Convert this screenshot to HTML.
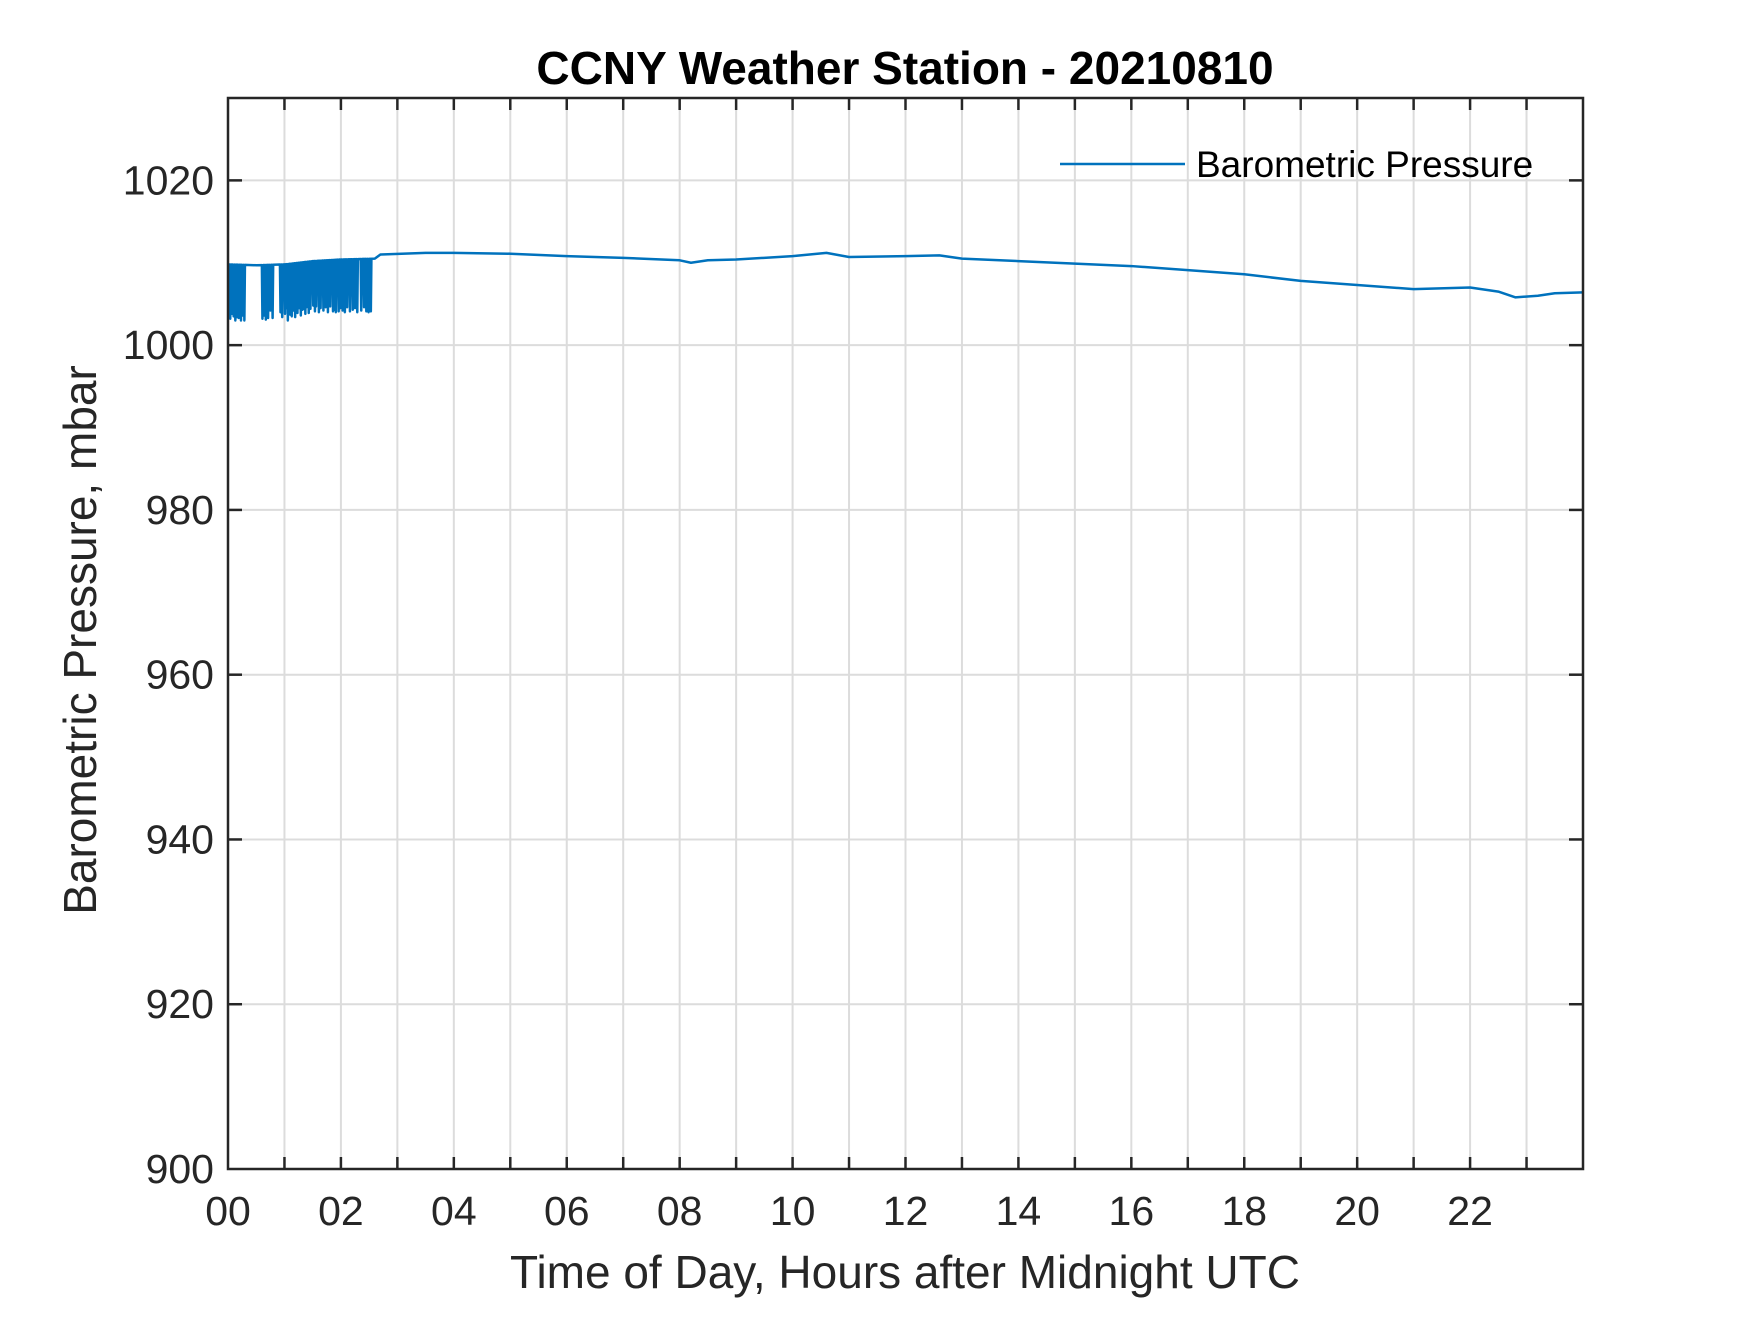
<!DOCTYPE html>
<html><head><meta charset="utf-8"><style>
body{margin:0;background:#fff;}
svg text{font-family:"Liberation Sans",Arial,sans-serif;fill:#262626;}
</style></head><body>
<svg id="chart" width="1750" height="1313" viewBox="0 0 1750 1313">
<rect width="1750" height="1313" fill="#fff"/>
<g id="grid"></g>
<g id="series"></g>
<g id="axes"></g>
<text x="905" y="84" text-anchor="middle" font-size="46" font-weight="bold" style="fill:#000">CCNY Weather Station - 20210810</text>
<text x="905" y="1288" text-anchor="middle" font-size="46">Time of Day, Hours after Midnight UTC</text>
<text transform="translate(96,640) rotate(-90)" text-anchor="middle" font-size="46">Barometric Pressure, mbar</text>
<g>
<line x1="1060" y1="164" x2="1185" y2="164" stroke="#0072BD" stroke-width="2.5"/>
<text x="1196" y="177" font-size="37" style="fill:#000">Barometric Pressure</text>
</g>
</svg>
<script>
const baseHours=[0,0.5,1,1.5,2,2.6,2.7,3.5,4,5,6,7,8,8.2,8.5,9,10,10.6,11,12,12.6,13,14,15,16,17,18,19,20,21,22,22.5,22.8,23.2,23.5,24];
const baseValues=[1009.8,1009.7,1009.8,1010.2,1010.4,1010.5,1011.0,1011.2,1011.2,1011.1,1010.8,1010.6,1010.3,1010.0,1010.3,1010.4,1010.8,1011.2,1010.7,1010.8,1010.9,1010.5,1010.2,1009.9,1009.6,1009.1,1008.6,1007.8,1007.3,1006.8,1007.0,1006.5,1005.8,1006.0,1006.3,1006.4];
const spikeHours=[0.03,0.06,0.09,0.12,0.15,0.18,0.22,0.25,0.28,0.6,0.63,0.66,0.7,0.74,0.78,0.92,0.95,1.0,1.03,1.05,1.09,1.12,1.15,1.18,1.22,1.25,1.28,1.31,1.33,1.36,1.38,1.42,1.45,1.5,1.53,1.55,1.6,1.63,1.68,1.72,1.76,1.8,1.85,1.88,1.9,1.95,1.98,2.02,2.06,2.1,2.15,2.2,2.24,2.28,2.35,2.4,2.44,2.48,2.52];
const spikeLows=[1003.2,1003.8,1003.5,1003.0,1003.4,1003.3,1003.0,1003.6,1003.0,1003.2,1003.6,1003.1,1003.3,1004.2,1003.3,1004.0,1003.4,1003.8,1004.5,1003.0,1003.7,1003.5,1004.2,1003.4,1003.9,1004.5,1003.6,1004.3,1004.4,1003.8,1004.6,1003.9,1004.4,1004.8,1004.1,1004.7,1004.0,1004.5,1004.2,1004.6,1004.0,1004.7,1004.1,1004.3,1004.0,1004.1,1004.5,1004.2,1004.0,1004.6,1004.1,1004.3,1004.5,1004.0,1004.2,1004.6,1004.1,1004.0,1004.1];
const yTicks=[900,920,940,960,980,1000,1020];
const xTickLabels=["00","02","04","06","08","10","12","14","16","18","20","22"];

const X0=228,X1=1583,Y0=1169,Y1=98,XMAX=24,YMIN=900,YMAX=1030;
const sx=h=>X0+(X1-X0)*h/XMAX;
const sy=v=>Y0-(Y0-Y1)*(v-YMIN)/(YMAX-YMIN);
const NS="http://www.w3.org/2000/svg";
function mk(tag,attrs,parent){const e=document.createElementNS(NS,tag);for(const k in attrs)e.setAttribute(k,attrs[k]);parent.appendChild(e);return e;}
function baseAt(h){for(let i=0;i<baseHours.length-1;i++){if(h>=baseHours[i]&&h<=baseHours[i+1]){const t=(h-baseHours[i])/(baseHours[i+1]-baseHours[i]);return baseValues[i]+t*(baseValues[i+1]-baseValues[i]);}}return baseValues[baseValues.length-1];}
const grid=document.getElementById('grid'),axes=document.getElementById('axes'),series=document.getElementById('series');
for(let h=1;h<24;h++){const l=mk('line',{x1:sx(h),x2:sx(h),y1:Y1,y2:Y0,stroke:'#dcdcdc','stroke-width':2},grid);


for(const [a,b] of [[Y0,Y0-12],[Y1,Y1+12]]){const t=mk('line',{x1:sx(h),x2:sx(h),y1:a,y2:b,stroke:'#262626','stroke-width':2.5},axes);

}}
yTicks.forEach(v=>{if(v>YMIN){const l=mk('line',{x1:X0,x2:X1,y1:sy(v),y2:sy(v),stroke:'#dcdcdc','stroke-width':2},grid);


for(const [a,b] of [[X0,X0+14],[X1,X1-14]]){const t=mk('line',{x1:a,x2:b,y1:sy(v),y2:sy(v),stroke:'#262626','stroke-width':2.5},axes);

}}
const tl=mk('text',{x:X0-14,y:sy(v)+14,'text-anchor':'end','font-size':41},axes);tl.textContent=v;

});
xTickLabels.forEach((s,i)=>{const t=mk('text',{x:sx(i*2),y:Y0+56,'text-anchor':'middle','font-size':41},axes);t.textContent=s;

});
const frame=mk('rect',{x:X0,y:Y1,width:X1-X0,height:Y0-Y1,fill:'none',stroke:'#262626','stroke-width':2.5},axes);


let pts=[];
const times=[...baseHours];
spikeHours.forEach(h=>times.push(h));
times.sort((a,b)=>a-b);
times.forEach(h=>{const k=spikeHours.indexOf(h);const b=baseAt(h);
if(k>=0){pts.push([sx(h),sy(b)],[sx(h+0.01),sy(spikeLows[k])],[sx(h+0.02),sy(b)]);}else pts.push([sx(h),sy(b)]);});
const pl=mk('polyline',{points:pts.map(p=>p.join(',')).join(' '),fill:'none',stroke:'#0072BD','stroke-width':2.5,'stroke-linejoin':'round'},series);


</script>
</body></html>
